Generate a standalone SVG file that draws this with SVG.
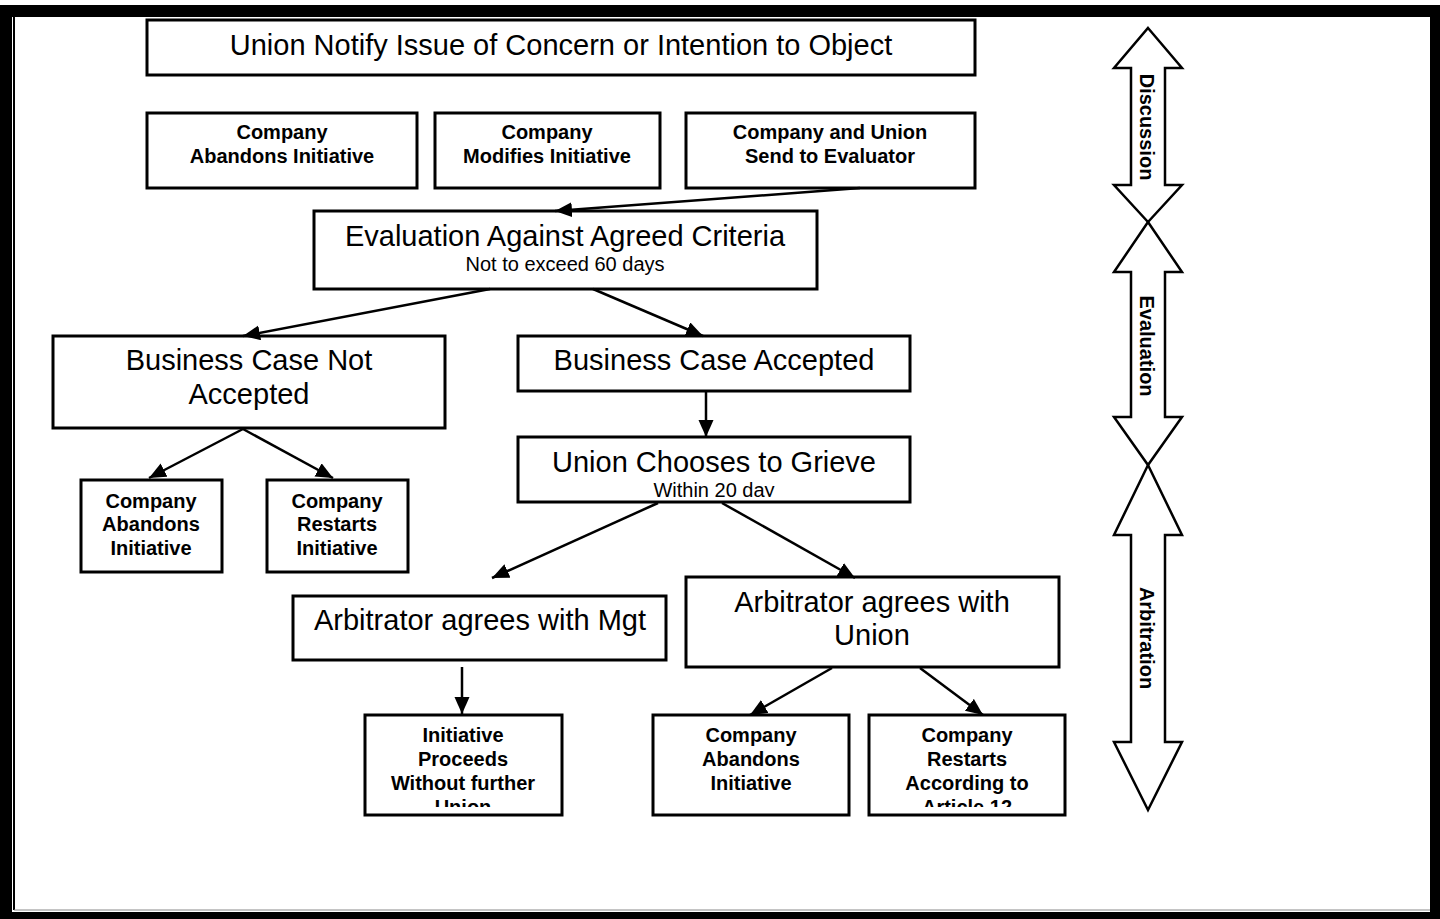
<svg xmlns="http://www.w3.org/2000/svg" width="1440" height="919" viewBox="0 0 1440 919">
<style>
.box{fill:#fff;stroke:#000;stroke-width:3}
.big{font-family:"Liberation Sans",Arial,sans-serif;font-size:29px;fill:#000;text-anchor:middle}
.sub{font-family:"Liberation Sans",Arial,sans-serif;font-size:20px;fill:#000;text-anchor:middle}
.bold{font-family:"Liberation Sans",Arial,sans-serif;font-size:20px;font-weight:bold;fill:#000;text-anchor:middle}
.con{stroke:#000;stroke-width:2.5;fill:none;marker-end:url(#ah)}
.phase{fill:#fff;stroke:#000;stroke-width:2.5;stroke-linejoin:miter}
</style>
<defs>
<marker id="ah" markerUnits="userSpaceOnUse" markerWidth="18" markerHeight="16" refX="17" refY="7.5" orient="auto">
<path d="M0,0 L17,7.5 L0,15 Z" fill="#000"/>
</marker>
<clipPath id="c1"><rect x="500" y="430" width="420" height="67"/></clipPath>
<clipPath id="c2"><rect x="360" y="710" width="210" height="97"/></clipPath>
<clipPath id="c3"><rect x="860" y="710" width="210" height="97"/></clipPath>
</defs>
<rect x="0" y="0" width="1440" height="919" fill="#fff"/>
<g id="frame">
<path d="M0,5 H1440 V919 H0 Z M12,17 V912 H1430 V17 Z" fill="#000" fill-rule="evenodd"/>
<line x1="14" y1="17" x2="14" y2="910" stroke="#000" stroke-width="2"/>
<line x1="14" y1="910" x2="1430" y2="910" stroke="#888" stroke-width="1"/>
</g>
<g id="n-notify"><rect class="box" x="147" y="20" width="828" height="55"/><text class="big" x="561" y="55">Union Notify Issue of Concern or Intention to Object</text></g>
<g id="n-abandon1"><rect class="box" x="147" y="113" width="270" height="75"/><text class="bold" x="282" y="139">Company</text><text class="bold" x="282" y="163">Abandons Initiative</text></g>
<g id="n-modifies"><rect class="box" x="435" y="113" width="225" height="75"/><text class="bold" x="547" y="139">Company</text><text class="bold" x="547" y="163">Modifies Initiative</text></g>
<g id="n-send"><rect class="box" x="686" y="113" width="289" height="75"/><text class="bold" x="830" y="139">Company and Union</text><text class="bold" x="830" y="163">Send to Evaluator</text></g>
<g id="n-eval"><rect class="box" x="314" y="211" width="503" height="78"/><text class="big" x="565" y="246">Evaluation Against Agreed Criteria</text><text class="sub" x="565" y="271">Not to exceed 60 days</text></g>
<g id="n-notaccepted"><rect class="box" x="53" y="336" width="392" height="92"/><text class="big" x="249" y="370">Business Case Not</text><text class="big" x="249" y="404">Accepted</text></g>
<g id="n-accepted"><rect class="box" x="518" y="336" width="392" height="55"/><text class="big" x="714" y="370">Business Case Accepted</text></g>
<g id="n-abandon2"><rect class="box" x="81" y="480" width="141" height="92"/><text class="bold" x="151" y="508">Company</text><text class="bold" x="151" y="531">Abandons</text><text class="bold" x="151" y="555">Initiative</text></g>
<g id="n-restarts"><rect class="box" x="267" y="480" width="141" height="92"/><text class="bold" x="337" y="508">Company</text><text class="bold" x="337" y="531">Restarts</text><text class="bold" x="337" y="555">Initiative</text></g>
<g id="n-grieve"><rect class="box" x="518" y="437" width="392" height="65"/><text class="big" x="714" y="472">Union Chooses to Grieve</text><text class="sub" x="714" y="497" clip-path="url(#c1)">Within 20 day</text></g>
<g id="n-mgt"><rect class="box" x="293" y="596" width="373" height="64"/><text class="big" x="480" y="630">Arbitrator agrees with Mgt</text></g>
<g id="n-union"><rect class="box" x="686" y="577" width="373" height="90"/><text class="big" x="872" y="612">Arbitrator agrees with</text><text class="big" x="872" y="645">Union</text></g>
<g id="n-proceeds"><rect class="box" x="365" y="715" width="197" height="100"/><g clip-path="url(#c2)"><text class="bold" x="463" y="742">Initiative</text><text class="bold" x="463" y="766">Proceeds</text><text class="bold" x="463" y="790">Without further</text><text class="bold" x="463" y="814">Union</text></g></g>
<g id="n-abandon3"><rect class="box" x="653" y="715" width="196" height="100"/><text class="bold" x="751" y="742">Company</text><text class="bold" x="751" y="766">Abandons</text><text class="bold" x="751" y="790">Initiative</text></g>
<g id="n-article"><rect class="box" x="869" y="715" width="196" height="100"/><g clip-path="url(#c3)"><text class="bold" x="967" y="742">Company</text><text class="bold" x="967" y="766">Restarts</text><text class="bold" x="967" y="790">According to</text><text class="bold" x="967" y="814">Article 12</text></g></g>
<g id="connectors">
<line class="con" x1="860" y1="188" x2="555" y2="211"/>
<line class="con" x1="490" y1="289" x2="243" y2="336"/>
<line class="con" x1="593" y1="289" x2="703" y2="336"/>
<line class="con" x1="706" y1="391" x2="706" y2="437"/>
<line class="con" x1="243" y1="429" x2="149" y2="478"/>
<line class="con" x1="243" y1="429" x2="333" y2="478"/>
<line class="con" x1="658" y1="503" x2="492" y2="578"/>
<line class="con" x1="722" y1="503" x2="855" y2="578"/>
<line class="con" x1="462" y1="667" x2="462" y2="714"/>
<line class="con" x1="832" y1="668" x2="750" y2="715"/>
<line class="con" x1="920" y1="668" x2="983" y2="715"/>
</g>
<g id="phase-discussion"><path class="phase" d="M1148,28 L1182,68 L1165,68 L1165,185 L1182,185 L1148,222 L1114,185 L1131,185 L1131,68 L1114,68 Z"/><text class="bold" transform="translate(1140,127) rotate(90)" x="0" y="0">Discussion</text></g>
<g id="phase-evaluation"><path class="phase" d="M1148,222 L1182,272 L1165,272 L1165,417 L1182,417 L1148,465 L1114,417 L1131,417 L1131,272 L1114,272 Z"/><text class="bold" transform="translate(1140,346) rotate(90)" x="0" y="0">Evaluation</text></g>
<g id="phase-arbitration"><path class="phase" d="M1148,465 L1182,535 L1165,535 L1165,742 L1182,742 L1148,810 L1114,742 L1131,742 L1131,535 L1114,535 Z"/><text class="bold" transform="translate(1140,638) rotate(90)" x="0" y="0">Arbitration</text></g>
</svg>
